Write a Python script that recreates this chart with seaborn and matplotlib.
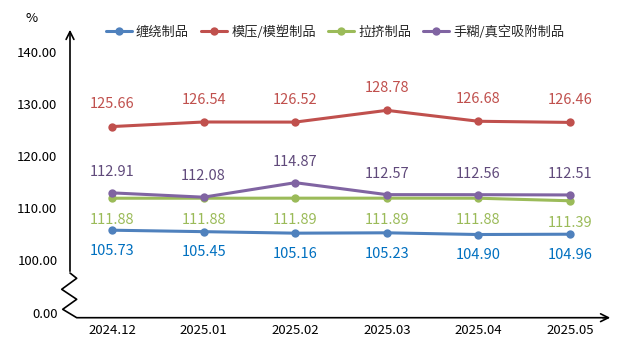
import matplotlib
matplotlib.use("Agg")
import matplotlib.pyplot as plt
import seaborn as sns
import pandas as pd
from matplotlib.lines import Line2D

sns.set_theme(style="white")
plt.rcParams['font.family'] = ['Noto Sans CJK SC', 'DejaVu Sans']

months = ["2024.12", "2025.01", "2025.02", "2025.03", "2025.04", "2025.05"]
series_names = ["缠绕制品", "模压/模塑制品", "拉挤制品", "手糊/真空吸附制品"]
winding = [105.73, 105.45, 105.16, 105.23, 104.90, 104.96]
molding = [125.66, 126.54, 126.52, 128.78, 126.68, 126.46]
pultrusion = [111.88, 111.88, 111.89, 111.89, 111.88, 111.39]
handlayup = [112.91, 112.08, 114.87, 112.57, 112.56, 112.51]
ytick_vals = [100, 110, 120, 130, 140]
ytick_labels = ["100.00", "110.00", "120.00", "130.00", "140.00"]
break_label = "0.00"

line_colors = ["#4F81BD", "#C0504D", "#9BBB59", "#8064A2"]
label_colors = ["#0070C0", "#C0504D", "#9BBB59", "#604A7B"]
label_offsets = [-15, 16, -16, 15]  # points, vertical

values = [winding, molding, pultrusion, handlayup]
rows = []
for name, vals in zip(series_names, values):
    for i, (m, v) in enumerate(zip(months, vals)):
        rows.append({"month": m, "idx": i, "value": v, "series": name})
df = pd.DataFrame(rows)

W, H = 631, 348
fig = plt.figure(figsize=(W / 100, H / 100), dpi=100)
L, R, T, B = 70, 612, 28, 318
ax = fig.add_axes([L / W, 1 - B / H, (R - L) / W, (B - T) / H])

sns.lineplot(data=df, x="idx", y="value", hue="series", hue_order=series_names,
             palette=line_colors, marker="o", markersize=6, markeredgewidth=0,
             linewidth=2.2, ax=ax, legend=False, sort=False)

# axis ranges (px scale: 5.2 px / unit, 100 at y=260)
px_per = 5.2
y_bottom = 100 - (B - 260) / px_per
y_top = 100 + (260 - T) / px_per
x_step = 91.6
ax.set_xlim(-(112 - L) / x_step, (R - 112) / x_step)
ax.set_ylim(y_bottom, y_top)
break_pos = 100 - (313 - 260) / px_per

ax.set_xticks(range(len(months)))
ax.set_xticklabels(months, fontsize=9.5, color="#000000")
ax.set_yticks([break_pos] + ytick_vals)
ax.set_yticklabels([break_label] + ytick_labels, fontsize=9.5, color="#000000")
ax.tick_params(axis="both", length=0)
ax.tick_params(axis="y", pad=9)
ax.tick_params(axis="x", pad=4)
ax.set_xlabel("")
ax.set_ylabel("")
for s in ax.spines.values():
    s.set_visible(False)

# custom broken axis
def to_ax(px, py):
    return ((px - L) / (R - L), (B - py) / (B - T))

zig = [(70, 273), (76.7, 278.3), (61.7, 289.3), (76.7, 299.3), (62.7, 309.3), (76.7, 317.7), (606, 317.7)]
zx, zy = zip(*[to_ax(*p) for p in zig])
ax.plot(zx, zy, transform=ax.transAxes, color="#000000", lw=1.2, clip_on=False)
ax.annotate("", xy=to_ax(70, 27), xytext=to_ax(70, 274), xycoords="axes fraction",
            arrowprops=dict(arrowstyle="->", color="#000000", lw=1.2, mutation_scale=14))
ax.annotate("", xy=to_ax(613, 317.7), xytext=to_ax(600, 317.7), xycoords="axes fraction",
            arrowprops=dict(arrowstyle="->", color="#000000", lw=1.2, mutation_scale=14))

# data labels
for vals, c, off in zip(values, label_colors, label_offsets):
    for i, v in enumerate(vals):
        ax.annotate(f"{v:.2f}", xy=(i, v), xytext=(0, off), textcoords="offset points",
                    ha="center", va="center", fontsize=10.5, color=c)

fig.text(32 / W, 1 - 18 / H, "%", fontsize=9.5, ha="center", va="center", color="#000000")

handles = [Line2D([0], [0], color=c, lw=2.2, marker="o", markersize=6, markeredgewidth=0)
           for c in line_colors]
fig.legend(handles, series_names, loc="center", bbox_to_anchor=(335 / W, 1 - 32 / H),
           ncol=4, frameon=False, fontsize=9.5, handlelength=2.0, handletextpad=0.3,
           columnspacing=0.9)

fig.savefig("out.png", dpi=100)
